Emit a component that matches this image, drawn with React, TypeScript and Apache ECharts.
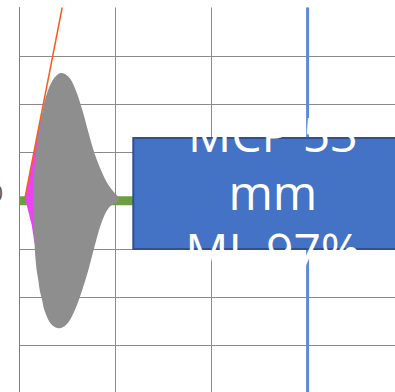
import { useEffect, useRef } from 'react';
import * as echarts from 'echarts';

// Violin (grey density shape): x positions with upper and lower edges
const violinX = [0.149, 0.159, 0.177, 0.201, 0.218, 0.236, 0.27, 0.34, 0.426, 0.512, 0.582, 0.652, 0.72, 0.79, 0.86, 0.928, 0.998, 1.032];
const violinUpper = [0.19, 0.6, 1.01, 1.36, 1.57, 1.77, 2.09, 2.46, 2.64, 2.57, 2.33, 1.92, 1.43, 0.95, 0.6, 0.33, 0.15, 0.08];
const violinLower = [-0.09, -0.77, -1.33, -1.65, -1.88, -2.02, -2.3, -2.57, -2.64, -2.52, -2.26, -1.88, -1.44, -0.91, -0.44, -0.16, -0.05, -0.02];

// Magenta wedge
const magentaX = [0.062, 0.238, 0.218, 0.161, 0.132];
const magentaY = [0.056, 1.836, -1.02, -0.876, -0.503];

// Orange line
const orangeX = [0.062, 0.449];
const orangeY = [0.056, 4.0];

// Green horizontal bar
const greenX = [0, 1.3];
const greenY = [0, 0];

// Blue vertical marker
const markerX = 3;
const markerY = [-5, 4];

// Annotation box
const boxX = [1.188, 4.09];
const boxY = [1.3, -1.0];
const boxText = 'MCP 53\nmm\nML 97%';

const sideLabel = '0';

export default function App() {
  const ref = useRef<HTMLDivElement>(null);
  useEffect(() => {
    const chart = echarts.init(ref.current!, null, { renderer: 'svg' });
    const option: any = {
      animation: false,
      grid: { left: 19, top: 7.5, width: 481, height: 434.7, outerBoundsMode: 'none', containLabel: false },
      xAxis: {
        type: 'value',
        min: 0,
        max: 5,
        interval: 1,
        axisLabel: { show: false },
        axisTick: { show: false },
        axisLine: { show: false },
        splitLine: { show: true, lineStyle: { color: '#8a8a8a', width: 1 } },
      },
      yAxis: {
        type: 'value',
        min: -5,
        max: 4,
        interval: 1,
        axisLabel: { show: false },
        axisTick: { show: false },
        axisLine: { show: true, onZero: false, lineStyle: { color: '#808080', width: 1 } },
        splitLine: { show: true, showMaxLine: false, lineStyle: { color: '#8a8a8a', width: 1 } },
      },
      graphic: [
        {
          type: 'text',
          x: 3,
          y: 192,
          style: {
            text: sideLabel,
            fill: '#595959',
            fontSize: 22,
            fontFamily: 'Open Sans',
            align: 'right',
            verticalAlign: 'middle',
          },
        },
      ],
      series: [
        {
          type: 'line',
          z: 1,
          symbol: 'none',
          data: greenX.map((x, i) => [x, greenY[i]]),
          lineStyle: { color: '#6d9f40', width: 9 },
        },
        {
          type: 'custom',
          z: 2,
          clip: true,
          data: [[0, 0]],
          renderItem: (_p: any, api: any) => {
            const pts = magentaX.map((x, i) => api.coord([x, magentaY[i]]));
            return { type: 'polygon', shape: { points: pts }, style: { fill: '#e844f2' } };
          },
        },
        {
          type: 'line',
          z: 3,
          symbol: 'none',
          data: orangeX.map((x, i) => [x, orangeY[i]]),
          lineStyle: { color: '#ff5a1c', width: 1.5 },
        },
        {
          type: 'custom',
          z: 4,
          clip: true,
          data: [[0, 0]],
          renderItem: (_p: any, api: any) => {
            const pts: number[][] = [];
            violinX.forEach((x, i) => pts.push(api.coord([x, violinUpper[i]])));
            for (let i = violinX.length - 1; i >= 0; i--) pts.push(api.coord([violinX[i], violinLower[i]]));
            return { type: 'polygon', shape: { points: pts, smooth: 0.35 }, style: { fill: '#8e8e8e' } };
          },
        },
        {
          type: 'custom',
          z: 20,
          clip: false,
          silent: true,
          data: [[boxX[0], boxY[0]]],
          renderItem: (_p: any, api: any) => {
            const lTop = api.coord([markerX, markerY[1]]);
            const lBot = api.coord([markerX, markerY[0]]);
            const bTop = api.coord([markerX, boxY[0]]);
            const bBot = api.coord([markerX, boxY[1]]);
            const p0 = api.coord([boxX[0], boxY[0]]);
            const p1 = api.coord([boxX[1], boxY[1]]);
            const lineStyle = { stroke: '#5b8bd3', lineWidth: 3 };
            return {
              type: 'group',
              children: [
                {
                  type: 'line',
                  z2: 1,
                  shape: { x1: lTop[0], y1: lTop[1], x2: bTop[0], y2: bTop[1] },
                  style: lineStyle,
                },
                {
                  type: 'line',
                  z2: 1,
                  shape: { x1: bBot[0], y1: bBot[1], x2: lBot[0], y2: lBot[1] },
                  style: lineStyle,
                },
                {
                  type: 'rect',
                  z2: 2,
                  shape: { x: p0[0], y: p0[1], width: p1[0] - p0[0], height: p1[1] - p0[1] },
                  style: { fill: '#4472c4', stroke: '#2f528f', lineWidth: 2 },
                },
                {
                  type: 'text',
                  z2: 3,
                  x: (p0[0] + p1[0]) / 2,
                  y: (p0[1] + p1[1]) / 2 - 2,
                  style: {
                    text: boxText,
                    fill: '#ffffff',
                    fontSize: 48,
                    lineHeight: 58,
                    fontFamily: 'Open Sans',
                    align: 'center',
                    verticalAlign: 'middle',
                  },
                },
              ],
            };
          },
        },
      ],
    };
    chart.setOption(option);
    return () => chart.dispose();
  }, []);
  return (
    <div style={{ position: 'absolute', left: 0, top: 0, width: 395, height: 392, overflow: 'hidden' }}>
      <div ref={ref} style={{ width: 520, height: 460 }} />
    </div>
  );
}
